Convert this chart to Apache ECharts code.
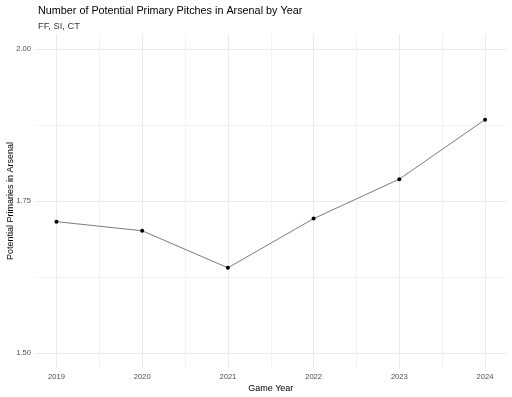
<!DOCTYPE html>
<html>
<head>
<meta charset="utf-8">
<script src="https://cdn.jsdelivr.net/npm/echarts@6/dist/echarts.min.js"></script>
<style>
  html, body { margin: 0; padding: 0; background: #fff; }
  #container { width: 512px; height: 397px; }
</style>
</head>
<body>
<div id="container"></div>
<script>
// data
var years = [2019, 2020, 2021, 2022, 2023, 2024];
var primaries = [1.716, 1.701, 1.640, 1.721, 1.786, 1.884];
var yTicks = [1.50, 1.75, 2.00];
var xTicks = [2019, 2020, 2021, 2022, 2023, 2024];

var FONT = '"Liberation Sans", Arial, sans-serif';
var MAJOR = '#ebebeb', MINOR = '#f3f3f3', NONE = 'rgba(0,0,0,0)';

function isTick(v, list) {
    for (var i = 0; i < list.length; i++) {
        if (Math.abs(v - list[i]) < 1e-6) return true;
    }
    return false;
}

var points = [];
for (var i = 0; i < years.length; i++) {
    points.push([years[i], primaries[i]]);
}

var myChart = echarts.init(document.getElementById('container'));
var option = {
    backgroundColor: '#fff',
    animation: false,
    title: [{
        text: 'Number of Potential Primary Pitches in Arsenal by Year',
        left: 33, top: 1,
        textStyle: { fontFamily: FONT, fontSize: 10.8, fontWeight: 'normal', color: '#000' }
    }, {
        text: 'FF, SI, CT',
        left: 33, top: 17,
        textStyle: { fontFamily: FONT, fontSize: 9.3, fontWeight: 'normal', color: '#333' }
    }],
    grid: { left: 35, right: 5.5, top: 34, bottom: 29, outerBoundsMode: 'none', containLabel: false },
    xAxis: {
        type: 'value',
        min: 2018.75, max: 2024.25, interval: 0.25,
        name: 'Game Year',
        nameLocation: 'middle',
        nameGap: 16,
        nameMoveOverlap: false,
        nameTextStyle: { fontFamily: FONT, fontSize: 9, color: '#000' },
        axisLine: { show: false },
        axisTick: { show: false },
        axisLabel: {
            margin: 5,
            fontFamily: FONT, fontSize: 7.6, color: '#4d4d4d',
            showMinLabel: true, showMaxLabel: true,
            formatter: function (v) { return isTick(v, xTicks) ? String(Math.round(v)) : ''; }
        },
        splitLine: {
            show: true,
            lineStyle: { width: 1, color: [NONE, MAJOR, NONE, MINOR] }
        }
    },
    yAxis: {
        type: 'value',
        min: 1.475, max: 2.025, interval: 0.025,
        name: 'Potential Primaries in Arsenal',
        nameLocation: 'middle',
        nameGap: 20,
        nameMoveOverlap: false,
        nameTextStyle: { fontFamily: FONT, fontSize: 9, color: '#000' },
        axisLine: { show: false },
        axisTick: { show: false },
        axisLabel: {
            margin: 4,
            fontFamily: FONT, fontSize: 7.6, color: '#4d4d4d',
            formatter: function (v) { return isTick(v, yTicks) ? v.toFixed(2) : ''; }
        },
        splitLine: {
            show: true,
            lineStyle: { width: 1, color: [NONE, MAJOR, NONE, NONE, NONE, NONE, MINOR, NONE, NONE, NONE] }
        }
    },
    series: [{
        type: 'line',
        data: points,
        symbol: 'circle',
        symbolSize: 4,
        itemStyle: { color: '#000' },
        lineStyle: { color: '#444', width: 0.7 }
    }]
};
myChart.setOption(option);
</script>
</body>
</html>
